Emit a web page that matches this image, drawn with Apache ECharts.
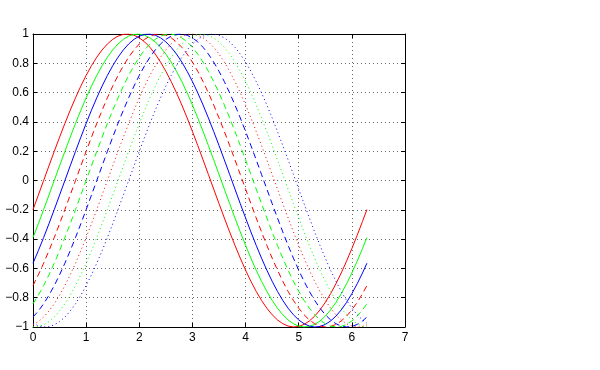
<!DOCTYPE html>
<html><head><meta charset="utf-8">
<script src="https://cdn.jsdelivr.net/npm/echarts@6/dist/echarts.min.js"></script>
<style>html,body{margin:0;padding:0;background:#fff}#c{width:600px;height:370px}</style>
</head><body><div id="c"></div>
<script>
var xs = [0,0.1,0.2,0.3,0.4,0.5,0.6,0.7,0.8,0.9,1.0,1.1,1.2,1.3,1.4,1.5,1.6,1.7,1.8,1.9,2.0,2.1,2.2,2.3,2.4,2.5,2.6,2.7,2.8,2.9,3.0,3.1,3.2,3.3,3.4,3.5,3.6,3.7,3.8,3.9,4.0,4.1,4.2,4.3,4.4,4.5,4.6,4.7,4.8,4.9,5.0,5.1,5.2,5.3,5.4,5.5,5.6,5.7,5.8,5.9,6.0,6.1,6.2,6.2832];
var xTicks = [0,1,2,3,4,5,6,7];
var yTicks = [-1,-0.8,-0.6,-0.4,-0.2,0,0.2,0.4,0.6,0.8,1];

var redSolid = [-0.1987,-0.0998,0,0.0998,0.1987,0.2955,0.3894,0.4794,0.5646,0.6442,0.7174,0.7833,0.8415,0.8912,0.9320,0.9636,0.9854,0.9975,0.9996,0.9917,0.9738,0.9463,0.9093,0.8632,0.8085,0.7457,0.6755,0.5985,0.5155,0.4274,0.3350,0.2392,0.1411,0.0416,-0.0584,-0.1577,-0.2555,-0.3508,-0.4425,-0.5298,-0.6119,-0.6878,-0.7568,-0.8183,-0.8716,-0.9162,-0.9516,-0.9775,-0.9937,-0.9999,-0.9962,-0.9825,-0.9589,-0.9258,-0.8835,-0.8323,-0.7728,-0.7055,-0.6313,-0.5507,-0.4646,-0.3739,-0.2794,-0.1987];
var greenSolid = [-0.3894,-0.2955,-0.1987,-0.0998,0,0.0998,0.1987,0.2955,0.3894,0.4794,0.5646,0.6442,0.7174,0.7833,0.8415,0.8912,0.9320,0.9636,0.9854,0.9975,0.9996,0.9917,0.9738,0.9463,0.9093,0.8632,0.8085,0.7457,0.6755,0.5985,0.5155,0.4274,0.3350,0.2392,0.1411,0.0416,-0.0584,-0.1577,-0.2555,-0.3508,-0.4425,-0.5298,-0.6119,-0.6878,-0.7568,-0.8183,-0.8716,-0.9162,-0.9516,-0.9775,-0.9937,-0.9999,-0.9962,-0.9825,-0.9589,-0.9258,-0.8835,-0.8323,-0.7728,-0.7055,-0.6313,-0.5507,-0.4646,-0.3894];
var blueSolid = [-0.5646,-0.4794,-0.3894,-0.2955,-0.1987,-0.0998,0,0.0998,0.1987,0.2955,0.3894,0.4794,0.5646,0.6442,0.7174,0.7833,0.8415,0.8912,0.9320,0.9636,0.9854,0.9975,0.9996,0.9917,0.9738,0.9463,0.9093,0.8632,0.8085,0.7457,0.6755,0.5985,0.5155,0.4274,0.3350,0.2392,0.1411,0.0416,-0.0584,-0.1577,-0.2555,-0.3508,-0.4425,-0.5298,-0.6119,-0.6878,-0.7568,-0.8183,-0.8716,-0.9162,-0.9516,-0.9775,-0.9937,-0.9999,-0.9962,-0.9825,-0.9589,-0.9258,-0.8835,-0.8323,-0.7728,-0.7055,-0.6313,-0.5646];
var redDashed = [-0.7174,-0.6442,-0.5646,-0.4794,-0.3894,-0.2955,-0.1987,-0.0998,0,0.0998,0.1987,0.2955,0.3894,0.4794,0.5646,0.6442,0.7174,0.7833,0.8415,0.8912,0.9320,0.9636,0.9854,0.9975,0.9996,0.9917,0.9738,0.9463,0.9093,0.8632,0.8085,0.7457,0.6755,0.5985,0.5155,0.4274,0.3350,0.2392,0.1411,0.0416,-0.0584,-0.1577,-0.2555,-0.3508,-0.4425,-0.5298,-0.6119,-0.6878,-0.7568,-0.8183,-0.8716,-0.9162,-0.9516,-0.9775,-0.9937,-0.9999,-0.9962,-0.9825,-0.9589,-0.9258,-0.8835,-0.8323,-0.7728,-0.7174];
var greenDashed = [-0.8415,-0.7833,-0.7174,-0.6442,-0.5646,-0.4794,-0.3894,-0.2955,-0.1987,-0.0998,0,0.0998,0.1987,0.2955,0.3894,0.4794,0.5646,0.6442,0.7174,0.7833,0.8415,0.8912,0.9320,0.9636,0.9854,0.9975,0.9996,0.9917,0.9738,0.9463,0.9093,0.8632,0.8085,0.7457,0.6755,0.5985,0.5155,0.4274,0.3350,0.2392,0.1411,0.0416,-0.0584,-0.1577,-0.2555,-0.3508,-0.4425,-0.5298,-0.6119,-0.6878,-0.7568,-0.8183,-0.8716,-0.9162,-0.9516,-0.9775,-0.9937,-0.9999,-0.9962,-0.9825,-0.9589,-0.9258,-0.8835,-0.8415];
var blueDashed = [-0.9320,-0.8912,-0.8415,-0.7833,-0.7174,-0.6442,-0.5646,-0.4794,-0.3894,-0.2955,-0.1987,-0.0998,0,0.0998,0.1987,0.2955,0.3894,0.4794,0.5646,0.6442,0.7174,0.7833,0.8415,0.8912,0.9320,0.9636,0.9854,0.9975,0.9996,0.9917,0.9738,0.9463,0.9093,0.8632,0.8085,0.7457,0.6755,0.5985,0.5155,0.4274,0.3350,0.2392,0.1411,0.0416,-0.0584,-0.1577,-0.2555,-0.3508,-0.4425,-0.5298,-0.6119,-0.6878,-0.7568,-0.8183,-0.8716,-0.9162,-0.9516,-0.9775,-0.9937,-0.9999,-0.9962,-0.9825,-0.9589,-0.9320];
var redDotted = [-0.9854,-0.9636,-0.9320,-0.8912,-0.8415,-0.7833,-0.7174,-0.6442,-0.5646,-0.4794,-0.3894,-0.2955,-0.1987,-0.0998,0,0.0998,0.1987,0.2955,0.3894,0.4794,0.5646,0.6442,0.7174,0.7833,0.8415,0.8912,0.9320,0.9636,0.9854,0.9975,0.9996,0.9917,0.9738,0.9463,0.9093,0.8632,0.8085,0.7457,0.6755,0.5985,0.5155,0.4274,0.3350,0.2392,0.1411,0.0416,-0.0584,-0.1577,-0.2555,-0.3508,-0.4425,-0.5298,-0.6119,-0.6878,-0.7568,-0.8183,-0.8716,-0.9162,-0.9516,-0.9775,-0.9937,-0.9999,-0.9962,-0.9854];
var greenDotted = [-0.9996,-0.9975,-0.9854,-0.9636,-0.9320,-0.8912,-0.8415,-0.7833,-0.7174,-0.6442,-0.5646,-0.4794,-0.3894,-0.2955,-0.1987,-0.0998,0,0.0998,0.1987,0.2955,0.3894,0.4794,0.5646,0.6442,0.7174,0.7833,0.8415,0.8912,0.9320,0.9636,0.9854,0.9975,0.9996,0.9917,0.9738,0.9463,0.9093,0.8632,0.8085,0.7457,0.6755,0.5985,0.5155,0.4274,0.3350,0.2392,0.1411,0.0416,-0.0584,-0.1577,-0.2555,-0.3508,-0.4425,-0.5298,-0.6119,-0.6878,-0.7568,-0.8183,-0.8716,-0.9162,-0.9516,-0.9775,-0.9937,-0.9996];
var blueDotted = [-0.9738,-0.9917,-0.9996,-0.9975,-0.9854,-0.9636,-0.9320,-0.8912,-0.8415,-0.7833,-0.7174,-0.6442,-0.5646,-0.4794,-0.3894,-0.2955,-0.1987,-0.0998,0,0.0998,0.1987,0.2955,0.3894,0.4794,0.5646,0.6442,0.7174,0.7833,0.8415,0.8912,0.9320,0.9636,0.9854,0.9975,0.9996,0.9917,0.9738,0.9463,0.9093,0.8632,0.8085,0.7457,0.6755,0.5985,0.5155,0.4274,0.3350,0.2392,0.1411,0.0416,-0.0584,-0.1577,-0.2555,-0.3508,-0.4425,-0.5298,-0.6119,-0.6878,-0.7568,-0.8183,-0.8716,-0.9162,-0.9516,-0.9738];

var seriesDefs = [
  {ys: redSolid, color: '#ff0000', type: 'solid'},
  {ys: greenSolid, color: '#00ff00', type: 'solid'},
  {ys: blueSolid, color: '#0000ff', type: 'solid'},
  {ys: redDashed, color: '#ff0000', type: [6, 4]},
  {ys: greenDashed, color: '#00ff00', type: [6, 4]},
  {ys: blueDashed, color: '#0000ff', type: [6, 4]},
  {ys: redDotted, color: '#ff0000', type: [1, 3]},
  {ys: greenDotted, color: '#00ff00', type: [1, 3]},
  {ys: blueDotted, color: '#0000ff', type: [1, 3]}
];

function fmt(v){ return String(+(+v).toFixed(1)).replace('-', '\u2212'); }
var font = {fontFamily: 'Liberation Sans, Arial, sans-serif', fontSize: 12, color: '#000'};
var gridLine = {show: true, lineStyle: {color: '#666', type: [1, 3], width: 1}};

var chart = echarts.init(document.getElementById('c'), null, {renderer: 'canvas'});
chart.setOption({
  animation: false,
  backgroundColor: '#fff',
  grid: {left: 33, top: 34, right: 195, bottom: 43, containLabel: false},
  xAxis: [
    {type: 'value', min: xTicks[0], max: xTicks[xTicks.length-1], interval: 1, position: 'bottom',
     axisLine: {show: true, onZero: false, lineStyle: {color: '#000', width: 1}},
     axisTick: {show: true, inside: true, length: 4, lineStyle: {color: '#000'}},
     axisLabel: Object.assign({margin: 5, formatter: fmt}, font),
     splitLine: gridLine},
    {type: 'value', min: xTicks[0], max: xTicks[xTicks.length-1], interval: 1, position: 'top',
     axisLine: {show: true, onZero: false, lineStyle: {color: '#000', width: 1}},
     axisTick: {show: true, inside: true, length: 4, lineStyle: {color: '#000'}},
     axisLabel: {show: false}, splitLine: {show: false}}
  ],
  yAxis: [
    {type: 'value', min: yTicks[0], max: yTicks[yTicks.length-1], interval: 0.2, position: 'left',
     axisLine: {show: true, onZero: false, lineStyle: {color: '#000', width: 1}},
     axisTick: {show: true, inside: true, length: 4, lineStyle: {color: '#000'}},
     axisLabel: Object.assign({margin: 4, formatter: fmt}, font),
     splitLine: gridLine},
    {type: 'value', min: yTicks[0], max: yTicks[yTicks.length-1], interval: 0.2, position: 'right',
     axisLine: {show: true, onZero: false, lineStyle: {color: '#000', width: 1}},
     axisTick: {show: true, inside: true, length: 4, lineStyle: {color: '#000'}},
     axisLabel: {show: false}, splitLine: {show: false}}
  ],
  series: seriesDefs.map(function(s){
    return {
      type: 'line', showSymbol: false, symbol: 'none', clip: true,
      xAxisIndex: 0, yAxisIndex: 0,
      lineStyle: {color: s.color, width: 1, type: s.type},
      data: xs.map(function(x, i){ return [x, s.ys[i]]; })
    };
  })
});
</script></body></html>
